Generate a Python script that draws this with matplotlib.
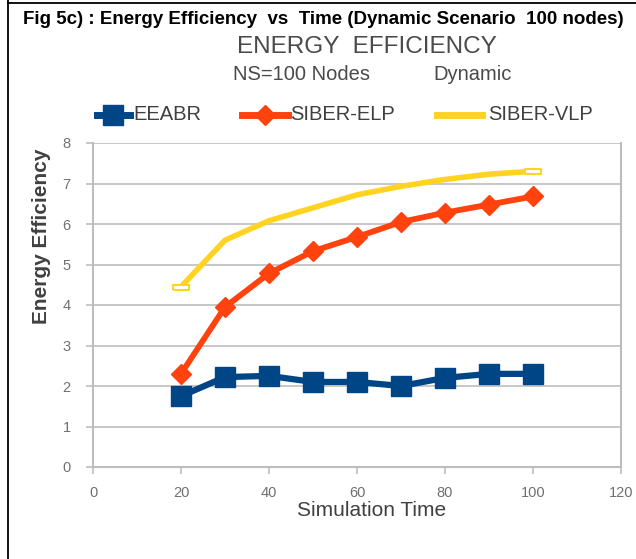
import matplotlib
matplotlib.use("Agg")
import matplotlib.pyplot as plt
from matplotlib.lines import Line2D

plt.rcParams['font.family'] = ['Liberation Sans', 'DejaVu Sans']

sim_time = [20, 30, 40, 50, 60, 70, 80, 90, 100]
eeabr = [1.75, 2.22, 2.25, 2.1, 2.1, 2.0, 2.2, 2.3, 2.3]
siber_elp = [2.3, 3.95, 4.78, 5.33, 5.68, 6.05, 6.28, 6.48, 6.68]
siber_vlp = [4.45, 5.6, 6.08, 6.4, 6.72, 6.93, 7.1, 7.23, 7.3]
series_names = ['EEABR', 'SIBER-ELP', 'SIBER-VLP']

blue = '#004586'
orange = '#ff420e'
yellow = '#ffd320'
grey = '#bdbdbd'
txt = '#404040'

fig = plt.figure(figsize=(6.36, 5.59), dpi=100)
W, H = 636, 559
ax = fig.add_axes([93 / W, 1 - 467 / H, (621 - 93) / W, (467 - 143) / H])

# flat rectangle marker, hollow, used at the ends of the VLP curve
rect = [(-1, -0.3), (1, -0.3), (1, 0.3), (-1, 0.3), (-1, -0.3)]
ax.plot(sim_time, siber_vlp, color=yellow, lw=4, marker=rect, ms=12, mfc='white',
        mec=yellow, mew=1.5, markevery=[0, len(sim_time) - 1], zorder=3)
ax.plot(sim_time, siber_elp, color=orange, lw=4.2, marker='D', ms=10, zorder=4)
ax.plot(sim_time, eeabr, color=blue, lw=4.5, marker='s', ms=14, zorder=5)

ax.set_xlim(0, 120)
ax.set_ylim(0, 8)
ax.set_xticks(range(0, 121, 20))
ax.set_yticks(range(0, 9))
ax.grid(axis='y', color=grey, lw=1.2)
for s in ax.spines.values():
    s.set_color(grey)
    s.set_linewidth(1.5)
ax.spines['top'].set_visible(False)
ax.tick_params(colors=grey, labelcolor='#707070', labelsize=10.5, length=5, width=1.2)
ax.tick_params(axis='x', pad=9)
ax.tick_params(axis='y', pad=11)

fig.text(372 / W, 1 - 510 / H, 'Simulation Time', ha='center', va='center',
         fontsize=15, color=txt)
fig.text(42 / W, 1 - 236 / H, 'Energy Efficiency', ha='center', va='center',
         rotation=90, fontsize=15, fontweight='bold', color=txt)

fig.text(323 / W, 1 - 20 / H, 'Fig 5c) : Energy Efficiency  vs  Time (Dynamic Scenario  100 nodes)',
         ha='center', va='center', fontsize=13.5, fontweight='bold', color='black')
fig.text(367 / W, 1 - 47 / H, 'ENERGY  EFFICIENCY', ha='center', va='center',
         fontsize=17.5, color='#4a4a4a')
fig.text(233 / W, 1 - 75 / H, 'NS=100 Nodes', ha='left', va='center',
         fontsize=14.5, color='#4a4a4a')
fig.text(512 / W, 1 - 75 / H, 'Dynamic', ha='right', va='center',
         fontsize=14.5, color='#4a4a4a')

# legend row: handle span and label start, in pixels
legend_style = [
    (blue, 's', 14, 97, 130, 133),
    (orange, 'D', 10, 242, 288, 290),
    (yellow, None, 0, 437, 482, 488),
]
ly = 1 - 115 / H
for name, (c, m, ms, x0, x1, tx) in zip(series_names, legend_style):
    fig.add_artist(Line2D([x0 / W, x1 / W], [ly, ly], color=c, lw=5, transform=fig.transFigure))
    if m:
        fig.add_artist(Line2D([(x0 + x1) / 2 / W], [ly], color=c, marker=m, ms=ms,
                              transform=fig.transFigure))
    fig.text(tx / W, ly, name, ha='left', va='center', fontsize=14.5, color=txt)

# cell borders
fig.add_artist(Line2D([8 / W, 8 / W], [0, 1], color='black', lw=1.3, transform=fig.transFigure))
fig.add_artist(Line2D([8 / W, 1], [1 - 3 / H, 1 - 3 / H], color='black', lw=1.3, transform=fig.transFigure))

fig.savefig('out.png', dpi=100)
